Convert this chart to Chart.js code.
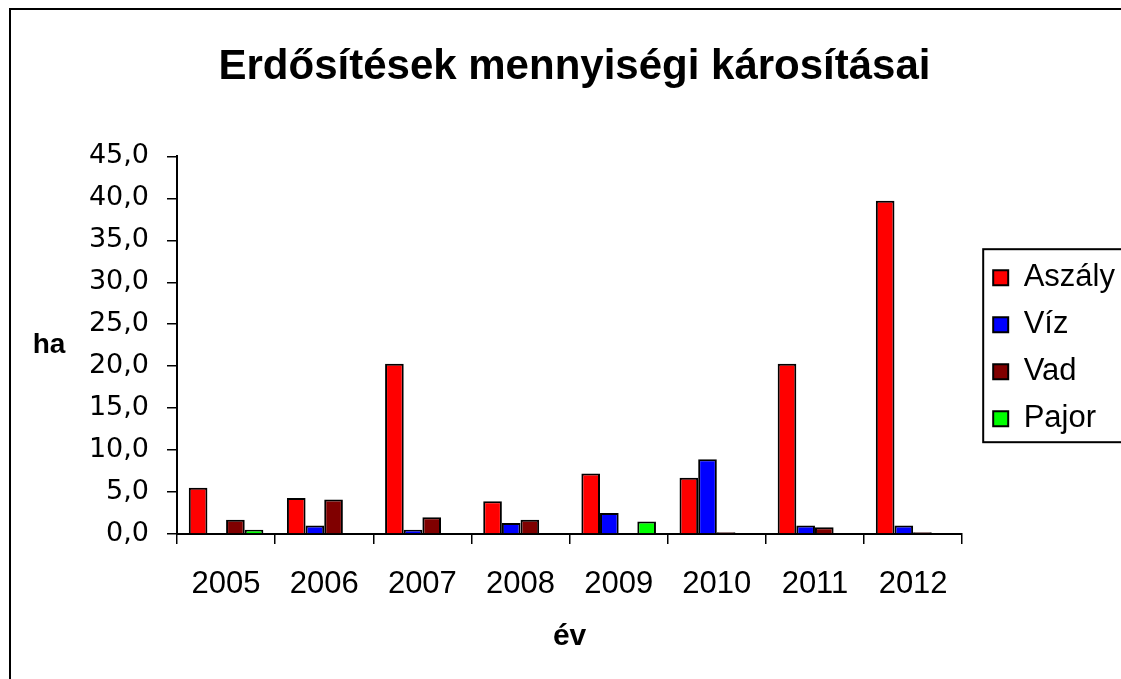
<!DOCTYPE html>
<html>
<head>
<meta charset="utf-8">
<title>Erdősítések mennyiségi károsításai</title>
<script src="https://cdn.jsdelivr.net/npm/chart.js@4/dist/chart.umd.min.js"></script>
<style>
  html, body { margin: 0; padding: 0; background: #fff; overflow: hidden; }
  #frame {
    position: absolute; left: 9px; top: 8px; width: 1300px; height: 800px;
    border-left: 2px solid #000; border-top: 2px solid #000;
  }
  #wrap { position: absolute; left: 0; top: 0; width: 1121px; height: 679px; }
</style>
</head>
<body>
<div id="frame"></div>
<div id="wrap"><canvas id="chart"></canvas></div>
<script>
// adatok (ha)
const years  = ['2005', '2006', '2007', '2008', '2009', '2010', '2011', '2012'];
const aszaly = [5.5, 4.3, 20.3, 3.9, 7.2, 6.7, 20.3, 39.7];
const viz    = [0, 1.0, 0.5, 1.3, 2.5, 8.9, 1.0, 1.0];
const vad    = [1.7, 4.1, 2.0, 1.7, 0, 0.2, 0.8, 0.2];
const pajor  = [0.5, 0, 0, 0, 1.5, 0, 0, 0];

const TITLE = 'Erdősítések mennyiségi károsításai';
const X_TITLE = 'év';
const Y_TITLE = 'ha';

const ARIAL = '"Liberation Sans", Arial, sans-serif';

function series(label, data, color) {
  return {
    label,
    data,
    backgroundColor: color,
    borderColor: '#000',
    borderWidth: 2,
    borderSkipped: 'start',
    categoryPercentage: 0.76,
    barPercentage: 1.0
  };
}

// "ha" felirat, keret a jelmagyarázat köré, kis igazítások
const extras = {
  id: 'extras',
  afterLayout(chart) {
    const lg = chart.legend;
    lg.left += 15;
    lg.right += 15;
    lg.top += 3;
    lg.bottom += 3;
    const t = chart.titleBlock;
    t.left -= 24;
    t.right -= 24;
  },
  afterDraw(chart) {
    const { ctx, chartArea } = chart;
    ctx.save();
    ctx.fillStyle = '#000';
    ctx.font = 'bold 28px ' + ARIAL;
    ctx.textAlign = 'center';
    ctx.textBaseline = 'middle';
    ctx.fillText(Y_TITLE, 49, (chartArea.top + chartArea.bottom) / 2);

    const boxes = chart.legend.legendHitBoxes || [];
    if (boxes.length) {
      const left = Math.min(...boxes.map(b => b.left)) - 10;
      const top = Math.min(...boxes.map(b => b.top)) - 13;
      const bottom = Math.max(...boxes.map(b => b.top + b.height)) + 8;
      ctx.strokeStyle = '#000';
      ctx.lineWidth = 2;
      ctx.strokeRect(left, top, chart.width + 20 - left, bottom - top);
    }
    ctx.restore();
  }
};

new Chart(document.getElementById('chart'), {
  type: 'bar',
  data: {
    labels: years,
    datasets: [
      series('Aszály', aszaly, '#ff0000'),
      series('Víz', viz, '#0000ff'),
      series('Vad', vad, '#800000'),
      series('Pajor', pajor, '#00ff00')
    ]
  },
  options: {
    responsive: true,
    maintainAspectRatio: false,
    animation: false,
    layout: { padding: { left: 87, right: 11, top: 8, bottom: 24 } },
    plugins: {
      title: {
        display: true,
        text: TITLE,
        color: '#000',
        font: { family: ARIAL, size: 42, weight: 'bold' },
        padding: { top: 34, bottom: 64 }
      },
      legend: {
        position: 'right',
        fullSize: false,
        labels: {
          color: '#000',
          font: { family: ARIAL, size: 31 },
          boxWidth: 15,
          boxHeight: 15,
          padding: 16
        }
      },
      tooltip: { enabled: false }
    },
    scales: {
      x: {
        grid: { drawOnChartArea: false, color: '#000', lineWidth: 1.5, tickLength: 10, offset: true },
        border: { display: true, color: '#000', width: 2 },
        ticks: { color: '#000', font: { family: ARIAL, size: 31 }, padding: 22, maxRotation: 0 },
        title: {
          display: true, text: X_TITLE, color: '#000',
          font: { family: ARIAL, size: 30, weight: 'bold' },
          padding: { top: 0, bottom: 0 }
        },
        afterFit: s => { s.height = 121; }
      },
      y: {
        min: 0,
        max: 45,
        grid: { drawOnChartArea: false, color: '#000', lineWidth: 1.5, tickLength: 10 },
        border: { display: true, color: '#000', width: 2 },
        ticks: {
          stepSize: 5,
          color: '#000',
          padding: 18,
          font: { family: '"DejaVu Sans", sans-serif', size: 27 },
          callback: v => v.toFixed(1).replace('.', ',')
        },
        afterFit: s => { s.width = 90; }
      }
    }
  },
  plugins: [extras]
});
</script>
</body>
</html>
